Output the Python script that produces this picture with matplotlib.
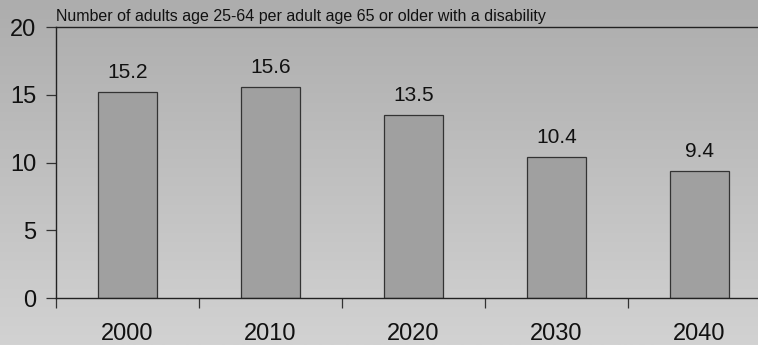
import numpy as np
import matplotlib
matplotlib.use("Agg")
import matplotlib.pyplot as plt
from matplotlib.colors import LinearSegmentedColormap
from matplotlib.ticker import FixedLocator

plt.rcParams['font.family'] = ['Liberation Sans', 'DejaVu Sans']

years = ["2000", "2010", "2020", "2030", "2040"]
ratio = [15.2, 15.6, 13.5, 10.4, 9.4]
y_ticks = [0, 5, 10, 15, 20]
title = "Number of adults age 25-64 per adult age 65 or older with a disability"

fig = plt.figure(figsize=(7.58, 3.45), dpi=100)

# grey vertical gradient behind everything
bg = fig.add_axes([0, 0, 1, 1], zorder=0)
grad = np.linspace(0, 1, 256).reshape(-1, 1)
bg.imshow(grad, aspect='auto', cmap=LinearSegmentedColormap.from_list('bg', ['#adadad', '#d2d2d2']),
          extent=[0, 1, 0, 1], origin='upper')
bg.axis('off')

ax = fig.add_axes([0.0739, 0.1362, 0.943, 0.7855], zorder=1)
ax.patch.set_alpha(0)

x = np.arange(len(years))
ax.bar(x, ratio, width=0.41, color='#a0a0a0', edgecolor='#333333', linewidth=0.9)
for xi, v in zip(x, ratio):
    ax.annotate(f"{v}", (xi, v), xytext=(0, 7), textcoords='offset points',
                ha='center', va='bottom', fontsize=15, color='#111111')

ax.set_xlim(-0.5, len(years) - 0.5)
ax.set_ylim(0, 20)
ax.set_yticks(y_ticks)
ax.set_xticks(x)
ax.set_xticklabels(years)
ax.xaxis.set_minor_locator(FixedLocator(np.arange(-0.5, len(years), 1.0)))

ax.tick_params(axis='x', which='major', length=0, pad=18, labelsize=17, labelcolor='#111111')
ax.tick_params(axis='x', which='minor', length=7, width=0.9, color='#333333', direction='out')
ax.tick_params(axis='y', length=7, width=0.9, color='#333333', pad=7, labelsize=17,
               labelcolor='#111111', direction='out')

for side in ['left', 'bottom', 'top']:
    ax.spines[side].set_color('#222222')
    ax.spines[side].set_linewidth(1.0)
ax.spines['right'].set_visible(False)

ax.text(0.0, 1.012, title, transform=ax.transAxes, ha='left', va='bottom',
        fontsize=11.5, color='#111111')

fig.savefig('out.png', dpi=100)
